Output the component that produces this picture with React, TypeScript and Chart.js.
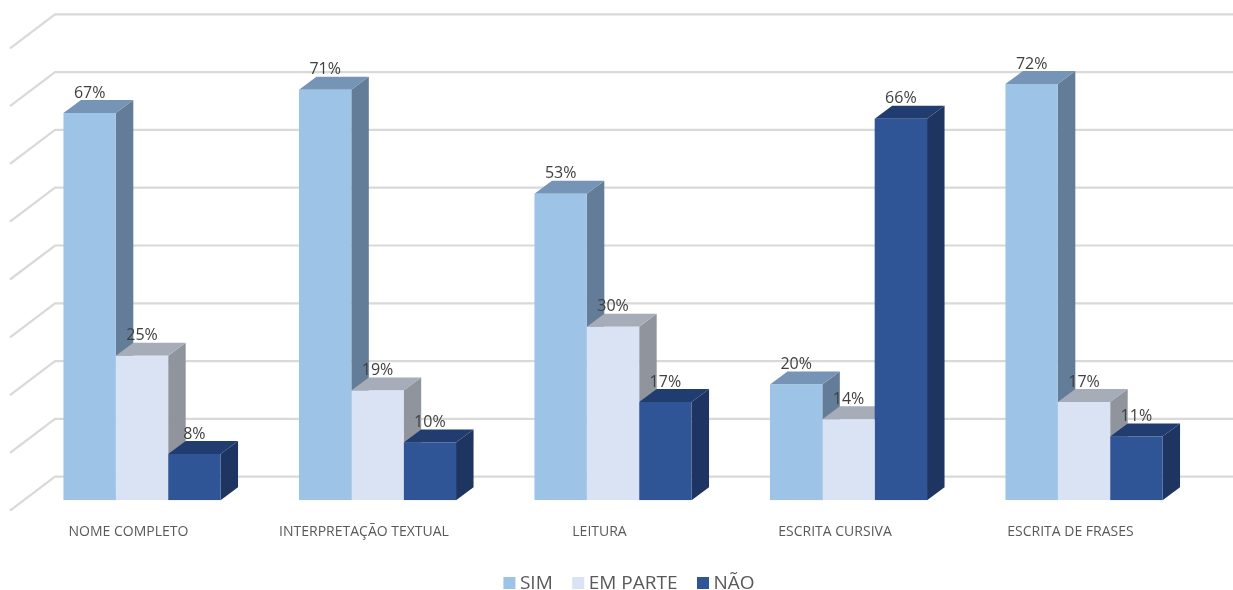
import React, { useEffect, useRef } from "react";
import { Chart, registerables } from "chart.js";

Chart.register(...registerables);

const categories = ["NOME COMPLETO", "INTERPRETAÇÃO TEXTUAL", "LEITURA", "ESCRITA CURSIVA", "ESCRITA DE FRASES"];
const sim = [67, 71, 53, 20, 72];
const emParte = [25, 19, 30, 14, 17];
const nao = [8, 10, 17, 66, 11];

const faceColors = ["#9DC3E6", "#DAE3F3", "#2F5597"];
const topColors = ["#7594B6", "#A6ACB8", "#213D6F"];
const sideColors = ["#637C97", "#8F949D", "#1E3562"];

// Oblique projection offsets for the bar extrusion and for the floor/wall.
const BAR_DX = 17.5;
const BAR_DY = 13;
const WALL_UP = 23.5;
const WALL_DX = 45;
const WALL_DY = 34;
const WALL_LEFT = 55;

// Key row geometry: tight swatch-to-text spacing, centred under the plot.
const KEY_CENTER_X = 629;
const KEY_Y = 583;
const KEY_BOX = 12;
const KEY_TEXT_GAP = 4.5;
const KEY_ITEM_GAP = 19.5;

function polygon(ctx: CanvasRenderingContext2D, pts: number[][], color: string) {
  ctx.beginPath();
  pts.forEach(([x, y], i) => (i ? ctx.lineTo(x, y) : ctx.moveTo(x, y)));
  ctx.closePath();
  ctx.fillStyle = color;
  ctx.fill();
}

// Back wall lines with their diagonal return, then the side and top faces of each bar.
const extrusion = {
  id: "extrusion",
  beforeDatasetsDraw(chart: any) {
    const { ctx, scales } = chart;
    ctx.save();
    ctx.strokeStyle = "#D9D9D9";
    ctx.lineWidth = 2.2;
    ctx.lineCap = "butt";
    scales.y.ticks.forEach((t: any) => {
      const y = scales.y.getPixelForValue(t.value) - WALL_UP;
      ctx.beginPath();
      ctx.moveTo(WALL_LEFT - WALL_DX, y + WALL_DY);
      ctx.lineTo(WALL_LEFT, y);
      ctx.lineTo(chart.width, y);
      ctx.stroke();
    });
    chart.data.datasets.forEach((_: any, d: number) => {
      chart.getDatasetMeta(d).data.forEach((bar: any) => {
        const { x, y, base, width } = bar.getProps(["x", "y", "base", "width"], true);
        const l = x - width / 2;
        const r = x + width / 2;
        polygon(ctx, [[r, y], [r + BAR_DX, y - BAR_DY], [r + BAR_DX, base - BAR_DY], [r, base]], sideColors[d]);
        polygon(ctx, [[l, y], [l + BAR_DX, y - BAR_DY], [r + BAR_DX, y - BAR_DY], [r, y]], topColors[d]);
      });
    });
    ctx.restore();
  },
  afterDatasetsDraw(chart: any) {
    const { ctx } = chart;
    ctx.save();
    ctx.font = '16px "Open Sans"';
    ctx.fillStyle = "#404040";
    ctx.textAlign = "center";
    ctx.textBaseline = "middle";
    chart.data.datasets.forEach((ds: any, d: number) => {
      chart.getDatasetMeta(d).data.forEach((bar: any, i: number) => {
        const { x, y } = bar.getProps(["x", "y"], true);
        ctx.fillText(`${ds.data[i]}%`, x, y - 20);
      });
    });

    // Series key along the bottom edge.
    ctx.font = '19px "Open Sans"';
    ctx.textAlign = "left";
    ctx.fillStyle = "#595959";
    const items = chart.data.datasets.map((ds: any) => ({
      label: ds.label,
      color: ds.backgroundColor,
      w: KEY_BOX + KEY_TEXT_GAP + ctx.measureText(ds.label).width,
    }));
    const total = items.reduce((s: number, it: any) => s + it.w, 0) + KEY_ITEM_GAP * (items.length - 1);
    let cx = KEY_CENTER_X - total / 2;
    items.forEach((it: any) => {
      ctx.fillStyle = it.color;
      ctx.fillRect(cx, KEY_Y - KEY_BOX / 2, KEY_BOX, KEY_BOX);
      ctx.fillStyle = "#595959";
      ctx.fillText(it.label, cx + KEY_BOX + KEY_TEXT_GAP, KEY_Y + 0.5);
      cx += it.w + KEY_ITEM_GAP;
    });
    ctx.restore();
  },
};

export default function App() {
  const ref = useRef<HTMLCanvasElement>(null);
  useEffect(() => {
    const chart = new Chart(ref.current!, {
      type: "bar",
      data: {
        labels: categories,
        datasets: [
          { label: "SIM", data: sim, backgroundColor: faceColors[0] },
          { label: "EM PARTE", data: emParte, backgroundColor: faceColors[1] },
          { label: "NÃO", data: nao, backgroundColor: faceColors[2] },
        ],
      },
      options: {
        animation: false,
        responsive: false,
        layout: { padding: { top: 37.8, left: 24.25, right: 31.25, bottom: 34 } },
        datasets: { bar: { categoryPercentage: 0.667, barPercentage: 1 } },
        scales: {
          y: { display: false, min: 0, max: 80, ticks: { stepSize: 10 } },
          x: {
            grid: { display: false },
            border: { display: false },
            ticks: { padding: 15.5, labelOffset: -13.5, maxRotation: 0, color: "#595959", font: { family: "Open Sans", size: 14 } },
          },
        },
        plugins: {
          tooltip: { enabled: false },
          legend: { display: false },
        },
      } as any,
      plugins: [extrusion],
    });
    return () => chart.destroy();
  }, []);
  return (
    <div style={{ position: "absolute", left: 0, top: 0, width: 1233, height: 590, background: "#fff" }}>
      <canvas ref={ref} width={1233} height={590} style={{ display: "block" }} />
    </div>
  );
}
